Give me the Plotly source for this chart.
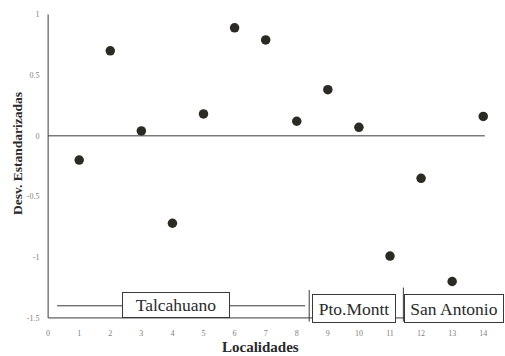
import plotly.graph_objects as go

localidades = list(range(1, 15))
desviaciones = [-0.20, 0.70, 0.04, -0.72, 0.18, 0.89, 0.79, 0.12, 0.38, 0.07, -0.99, -0.35, -1.20, 0.16]
x_ticks = list(range(0, 15))
y_ticks = [1, 0.5, 0, -0.5, -1, -1.5]
y_tick_text = ["1", "0.5", "0", "-0.5", "-1", "-1.5"]

SERIF = "Liberation Serif, Times New Roman, serif"
LINE = "#3a3a3a"
TXT = "#2a2a2a"

fig = go.Figure()
fig.add_trace(go.Scatter(
    x=localidades, y=desviaciones, mode="markers",
    marker=dict(symbol="circle", size=9.5, color="#2b2b24", line=dict(width=0)),
    showlegend=False, cliponaxis=False,
))

shapes = [
    dict(type="line", xref="x", yref="y", x0=0, x1=0, y0=-1.5, y1=1.0, line=dict(color=LINE, width=1)),
    dict(type="line", xref="x", yref="y", x0=0, x1=14, y0=-1.5, y1=-1.5, line=dict(color=LINE, width=1)),
    dict(type="line", xref="x", yref="y", x0=0, x1=14.05, y0=0, y1=0, line=dict(color=LINE, width=1)),
    dict(type="line", xref="x", yref="y", x0=0.29, x1=8.27, y0=-1.4, y1=-1.4, line=dict(color=LINE, width=1)),
    dict(type="line", xref="x", yref="y", x0=8.4, x1=8.4, y0=-1.27, y1=-1.53, line=dict(color=LINE, width=1)),
    dict(type="line", xref="x", yref="y", x0=11.43, x1=11.43, y0=-1.25, y1=-1.53, line=dict(color=LINE, width=1)),
]

L, R, T, B = 45, 0, 12, 32
W, H = 505, 356
pw, ph = W - L - R, H - T - B

def px(xp):
    return (xp - L) / pw

def py(yp):
    return (H - B - yp) / ph

annotations = [
    dict(x=4.12, y=-1.39, xref="x", yref="y", text="Talcahuano", showarrow=False,
         font=dict(family=SERIF, size=17.5, color=TXT), bgcolor="white",
         bordercolor=LINE, borderwidth=1, width=104, height=22),
    dict(x=9.85, y=-1.42, xref="x", yref="y", text="Pto.Montt", showarrow=False,
         font=dict(family=SERIF, size=17.5, color=TXT), bgcolor="white",
         bordercolor=LINE, borderwidth=1, width=80, height=25),
    dict(x=13.07, y=-1.42, xref="x", yref="y", text="San Antonio", showarrow=False,
         font=dict(family=SERIF, size=17.5, color=TXT), bgcolor="white",
         bordercolor=LINE, borderwidth=1, width=96, height=25),
    dict(x=px(17), y=py(154), xref="paper", yref="paper", xanchor="center", yanchor="middle",
         text="<b>Desv. Estandarizadas</b>", showarrow=False, textangle=-90,
         font=dict(family=SERIF, size=13.5, color=TXT)),
    dict(x=px(260), y=py(347), xref="paper", yref="paper", xanchor="center", yanchor="middle",
         text="<b>Localidades</b>", showarrow=False,
         font=dict(family=SERIF, size=15, color=TXT)),
]

fig.update_layout(
    width=W, height=H,
    margin=dict(l=L, r=R, t=T, b=B),
    paper_bgcolor="white", plot_bgcolor="white",
    shapes=shapes, annotations=annotations,
    xaxis=dict(range=[-0.1, 14.7], tickvals=x_ticks, ticktext=[str(v) for v in x_ticks],
               showgrid=False, zeroline=False, showline=False,
               ticks="outside", ticklen=1, tickcolor="rgba(0,0,0,0)",
               tickfont=dict(family=SERIF, size=8, color="#808080")),
    yaxis=dict(range=[-1.55, 1.02], tickvals=y_ticks, ticktext=y_tick_text,
               showgrid=False, zeroline=False, showline=False,
               ticks="outside", ticklen=3, tickcolor="rgba(0,0,0,0)",
               tickfont=dict(family=SERIF, size=8, color="#808080")),
)

fig.write_html("out.html", config={"displayModeBar": False},
               post_script="document.body.style.margin='0';")
